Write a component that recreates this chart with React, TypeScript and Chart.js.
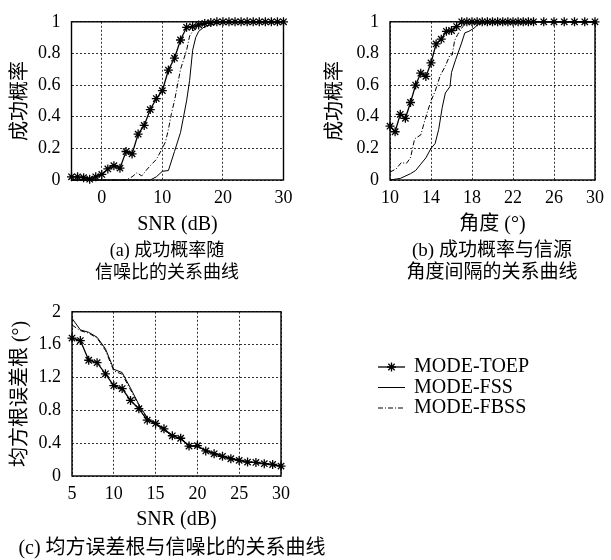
import React, { useEffect, useRef } from "react";
import { Chart, registerables } from "chart.js";
Chart.register(...registerables);

const SERIF = "'Liberation Serif', 'Noto Sans CJK SC', serif";

// ---------- (a) success probability vs SNR ----------
const snrA = [-5, -4, -3, -2, -1, 0, 1, 2, 3, 4, 5, 6, 7, 8, 9, 10, 11, 12, 13, 14, 15, 16, 17, 18, 19, 20, 21, 22, 23, 24, 25, 26, 27, 28, 29, 30];
const toepA = [0.02, 0.02, 0.015, 0.005, 0.02, 0.035, 0.07, 0.09, 0.075, 0.18, 0.165, 0.29, 0.345, 0.445, 0.515, 0.565, 0.695, 0.77, 0.885, 0.965, 0.97, 0.98, 0.99, 0.995, 1, 1, 1, 1, 1, 1, 1, 1, 1, 1, 1, 1];
const fssAx = [-5, 8, 9, 10, 11, 12, 13, 13.5, 14, 14.5, 15, 15.5, 16, 17, 18, 19, 20, 30];
const fssAy = [0, 0, 0.02, 0.055, 0.06, 0.18, 0.3, 0.4, 0.5, 0.63, 0.82, 0.9, 0.94, 0.97, 0.98, 0.99, 1, 1];
const fbssAx = [-5, 4, 5, 5.8, 6.6, 7.4, 8, 9, 10, 10.5, 11, 11.5, 12, 12.5, 13, 13.5, 14, 14.5, 15, 16, 17, 18, 30];
const fbssAy = [0, 0, 0.02, 0.046, 0.026, 0.064, 0.09, 0.13, 0.2, 0.24, 0.32, 0.42, 0.5, 0.6, 0.7, 0.76, 0.82, 0.91, 0.94, 0.97, 0.99, 1, 1];

// ---------- (b) success probability vs angle separation ----------
const angB = [10, 10.5, 11, 11.5, 12, 12.5, 13, 13.5, 14, 14.5, 15, 15.5, 16, 16.5, 17, 17.5, 18, 18.5, 19, 19.5, 20, 20.5, 21, 21.5, 22, 22.5, 23, 23.5, 24, 25, 26, 27, 28, 29, 30];
const toepB = [0.34, 0.305, 0.415, 0.39, 0.49, 0.6, 0.675, 0.655, 0.74, 0.86, 0.89, 0.94, 0.945, 0.97, 1, 1, 1, 1, 1, 1, 1, 1, 1, 1, 1, 1, 1, 1, 1, 1, 1, 1, 1, 1, 1];
const fssBx = [10, 11, 12, 12.5, 13, 13.5, 14, 14.4, 14.75, 15.1, 15.4, 15.85, 16, 16.4, 16.95, 17.3, 17.7, 18.2, 18.7, 19.2, 30];
const fssBy = [0, 0.01, 0.04, 0.06, 0.1, 0.14, 0.2, 0.23, 0.32, 0.46, 0.55, 0.59, 0.68, 0.76, 0.86, 0.93, 0.94, 0.96, 0.99, 1, 1];
const fbssBx = [10, 10.6, 11.1, 11.6, 12, 12.4, 13, 13.5, 14, 14.4, 14.9, 15.4, 15.85, 16.07, 16.3, 16.6, 17.1, 17.6, 30];
const fbssBy = [0.05, 0.07, 0.11, 0.105, 0.14, 0.26, 0.285, 0.4, 0.5, 0.56, 0.66, 0.72, 0.79, 0.79, 0.88, 0.92, 0.97, 1, 1];

// ---------- (c) RMSE vs SNR ----------
const snrC = [5, 6, 7, 8, 9, 10, 11, 12, 13, 14, 15, 16, 17, 18, 19, 20, 21, 22, 23, 24, 25, 26, 27, 28, 29, 30];
const toepC = [1.68, 1.65, 1.41, 1.38, 1.245, 1.1, 1.065, 0.92, 0.82, 0.68, 0.64, 0.575, 0.49, 0.46, 0.365, 0.37, 0.305, 0.27, 0.24, 0.21, 0.19, 0.17, 0.165, 0.15, 0.14, 0.12];
const fssC = [1.92, 1.78, 1.75, 1.69, 1.55, 1.3, 1.26, 1.07, 0.87, 0.71, 0.63, 0.56, 0.49, 0.45, 0.37, 0.36, 0.31, 0.28, 0.245, 0.215, 0.19, 0.175, 0.16, 0.15, 0.135, 0.12];
const fbssC = [1.84, 1.77, 1.74, 1.68, 1.53, 1.28, 1.24, 1.05, 0.86, 0.7, 0.63, 0.56, 0.49, 0.45, 0.37, 0.36, 0.31, 0.28, 0.245, 0.215, 0.19, 0.175, 0.16, 0.15, 0.135, 0.12];

const seriesNames = ["MODE-TOEP", "MODE-FSS", "MODE-FBSS"];

const zip = (xs: number[], ys: number[]) => xs.map((x, i) => ({ x, y: ys[i] }));

const toepStyle = {
  borderColor: "#000",
  borderWidth: 1.3,
  pointStyle: "star",
  pointRadius: 4.5,
  pointBorderColor: "#000",
  pointBackgroundColor: "#000",
  pointBorderWidth: 1.3,
  tension: 0,
  clip: false,
};
const fssStyle = { borderColor: "#000", borderWidth: 1, pointRadius: 0, tension: 0, clip: false };
const fbssStyle = { borderColor: "#000", borderWidth: 1, pointRadius: 0, tension: 0, clip: false, borderDash: [5, 2, 1, 2] };

const makeSets = (t: any[], f: any[], b: any[]) => [
  { label: seriesNames[0], data: t, ...toepStyle },
  { label: seriesNames[1], data: f, ...fssStyle },
  { label: seriesNames[2], data: b, ...fbssStyle },
];

const framePlugin = {
  id: "frame",
  beforeDatasetsDraw(chart: any) {
    const { left, top, right, bottom } = chart.chartArea;
    const ctx = chart.ctx;
    ctx.save();
    ctx.strokeStyle = "#000";
    ctx.lineWidth = 1.4;
    ctx.strokeRect(left, top, right - left, bottom - top);
    ctx.restore();
  },
};

const legendPlugin = {
  id: "sideLegend",
  afterDraw(chart: any, _args: any, opts: any) {
    if (!opts || !opts.show) return;
    const ctx = chart.ctx;
    chart.data.datasets.forEach((ds: any, i: number) => {
      const y = opts.y + i * opts.gap;
      ctx.save();
      ctx.strokeStyle = ds.borderColor;
      ctx.lineWidth = ds.borderWidth;
      ctx.setLineDash(ds.borderDash || []);
      ctx.beginPath();
      ctx.moveTo(opts.x, y);
      ctx.lineTo(opts.x + opts.len, y);
      ctx.stroke();
      ctx.setLineDash([]);
      if (ds.pointRadius > 0) {
        const cx = opts.x + opts.len / 2;
        const r = ds.pointRadius;
        ctx.lineWidth = ds.pointBorderWidth;
        ctx.beginPath();
        for (let k = 0; k < 4; k++) {
          const a = (k * Math.PI) / 4;
          ctx.moveTo(cx - r * Math.cos(a), y - r * Math.sin(a));
          ctx.lineTo(cx + r * Math.cos(a), y + r * Math.sin(a));
        }
        ctx.stroke();
      }
      ctx.fillStyle = "#000";
      ctx.font = `20px ${SERIF}`;
      ctx.textBaseline = "middle";
      ctx.textAlign = "left";
      ctx.fillText(ds.label, opts.x + opts.len + 9, y);
      ctx.restore();
    });
  },
};

const fmt = (v: number) => String(Math.round(v * 10) / 10);

type Axis = { min: number; max: number; step: number; show: (v: number) => boolean; title: string; titlePad: any };
type Box = { yWidth: number; xHeight: number; top: number; right: number };

function makeChart(canvas: HTMLCanvasElement, datasets: any[], x: Axis, y: Axis, box: Box, legend?: any) {
  const tickFont = { family: SERIF, size: 18 };
  const titleFont = { family: SERIF, size: 20 };
  const grid = { color: "rgba(0,0,0,0.8)", lineWidth: 1, drawTicks: false };
  const border = { display: false, dash: [2, 2] };
  return new Chart(canvas, {
    type: "line",
    data: { datasets },
    plugins: [framePlugin, legendPlugin],
    options: {
      animation: false,
      responsive: false,
      maintainAspectRatio: false,
      layout: { padding: { left: 0, top: box.top, right: box.right, bottom: 0 } },
      plugins: {
        legend: { display: false },
        tooltip: { enabled: false },
        sideLegend: legend || { show: false },
      } as any,
      scales: {
        x: {
          type: "linear",
          min: x.min,
          max: x.max,
          grid,
          border,
          ticks: {
            stepSize: x.step,
            autoSkip: false,
            maxRotation: 0,
            padding: 7,
            color: "#000",
            font: tickFont,
            callback: (v: any) => (x.show(Number(v)) ? fmt(Number(v)) : null),
          },
          title: { display: true, text: x.title, color: "#000", font: titleFont, padding: x.titlePad },
          afterFit: (s: any) => {
            s.height = box.xHeight;
          },
        },
        y: {
          type: "linear",
          min: y.min,
          max: y.max,
          grid,
          border,
          ticks: {
            stepSize: y.step,
            autoSkip: false,
            padding: 11,
            color: "#000",
            font: tickFont,
            callback: (v: any) => (y.show(Number(v)) ? fmt(Number(v)) : null),
          },
          title: { display: true, text: y.title, color: "#000", font: titleFont, padding: y.titlePad },
          afterFit: (s: any) => {
            s.width = box.yWidth;
          },
        },
      } as any,
    },
  } as any);
}

const capStyle = (cx: number, cy: number, size = 19): React.CSSProperties => ({
  position: "absolute",
  left: cx - 200,
  width: 400,
  top: cy - 11,
  lineHeight: "22px",
  fontSize: size,
  textAlign: "center",
  whiteSpace: "nowrap",
  color: "#000",
  fontFamily: SERIF,
});

export default function App() {
  const aRef = useRef<HTMLCanvasElement>(null);
  const bRef = useRef<HTMLCanvasElement>(null);
  const cRef = useRef<HTMLCanvasElement>(null);

  useEffect(() => {
    const cA = makeChart(
      aRef.current!,
      makeSets(zip(snrA, toepA), zip(fssAx, fssAy), zip(fbssAx, fbssAy)),
      { min: -5, max: 30, step: 5, show: (v) => v % 10 === 0, title: "SNR (dB)", titlePad: { top: 0, bottom: 3.6 } },
      { min: 0, max: 1, step: 0.1, show: (v) => Math.round(v * 10) % 2 === 0, title: "成功概率", titlePad: { top: 8.6, bottom: 0 } },
      { yWidth: 71.5, xHeight: 60, top: 13.5, right: 21.5 }
    );
    const cB = makeChart(
      bRef.current!,
      makeSets(zip(angB, toepB), zip(fssBx, fssBy), zip(fbssBx, fbssBy)),
      { min: 10, max: 30, step: 2, show: (v) => (v - 10) % 4 === 0, title: "角度 (°)", titlePad: { top: 0, bottom: 3.6 } },
      { min: 0, max: 1, step: 0.1, show: (v) => Math.round(v * 10) % 2 === 0, title: "成功概率", titlePad: { top: 23.6, bottom: 0 } },
      { yWidth: 90, xHeight: 60, top: 13.5, right: 10 }
    );
    const cC = makeChart(
      cRef.current!,
      makeSets(zip(snrC, toepC), zip(snrC, fssC), zip(snrC, fbssC)),
      { min: 5, max: 30, step: 5, show: () => true, title: "SNR (dB)", titlePad: { top: 0, bottom: 8.6 } },
      { min: 0, max: 2, step: 0.2, show: (v) => Math.round(v * 5) % 2 === 0, title: "均方根误差根 (°)", titlePad: { top: 8.6, bottom: 0 } },
      { yWidth: 72, xHeight: 64, top: 20, right: 330 },
      { show: true, x: 378, len: 27, y: 77, gap: 20.5 }
    );
    return () => {
      cA.destroy();
      cB.destroy();
      cC.destroy();
    };
  }, []);

  return (
    <div style={{ position: "fixed", left: 0, top: 0, width: 611, height: 560, background: "#fff", overflow: "hidden" }}>
      <canvas ref={aRef} width={305} height={240} style={{ position: "absolute", left: 0, top: 0, width: 305, height: 240 }} />
      <canvas ref={bRef} width={311} height={240} style={{ position: "absolute", left: 300, top: 0, width: 311, height: 240 }} />
      <canvas ref={cRef} width={611} height={250} style={{ position: "absolute", left: 0, top: 290, width: 611, height: 250 }} />
      <div style={capStyle(167, 250, 18)}>(a) 成功概率随</div>
      <div style={capStyle(167, 272, 18)}>信噪比的关系曲线</div>
      <div style={capStyle(492, 250)}>(b) 成功概率与信源</div>
      <div style={capStyle(492, 272)}>角度间隔的关系曲线</div>
      <div style={capStyle(172, 547, 20)}>(c) 均方误差根与信噪比的关系曲线</div>
    </div>
  );
}
